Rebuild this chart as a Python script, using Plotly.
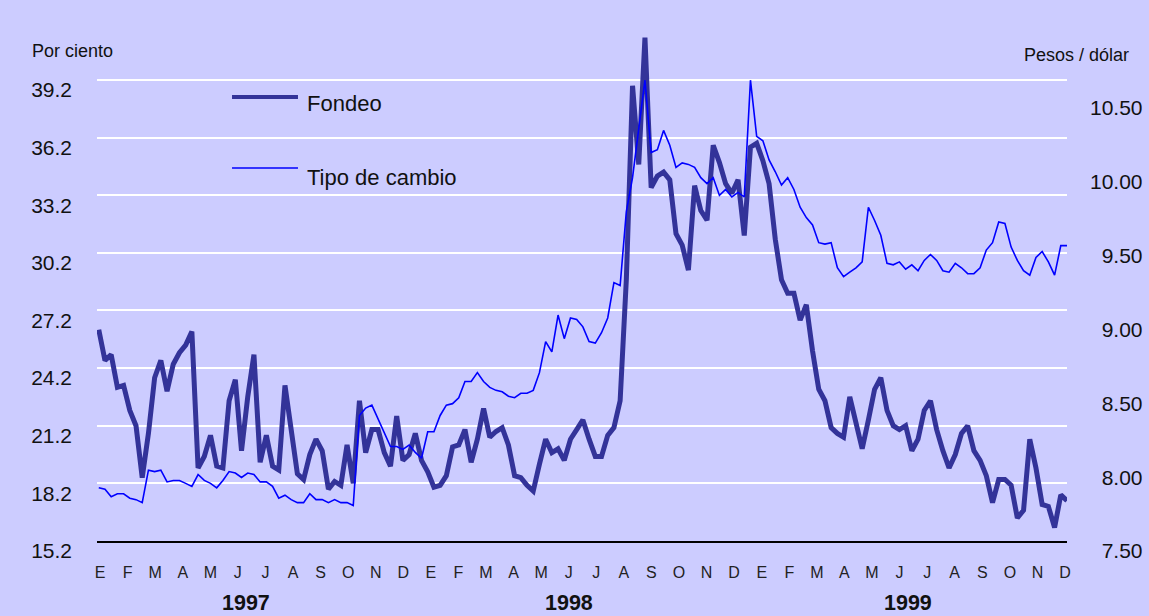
import plotly.graph_objects as go
import pandas as pd

# ---------------- data (weekly readings, Fridays) ----------------
weeks = pd.date_range("1997-01-03", "1999-12-31", freq="7D")

fondeo = [
    26.2, 24.6, 24.9, 23.2, 23.3, 22.0, 21.2, 18.5, 20.8, 23.7,
    24.6, 23.0, 24.4, 25.0, 25.4, 26.1, 19.0, 19.6, 20.7, 19.1,
    19.0, 22.5, 23.6, 19.9, 22.7, 24.9, 19.3, 20.7, 19.1, 18.9,
    23.3, 20.8, 18.7, 18.4, 19.7, 20.5, 19.9, 17.9, 18.3, 18.1,
    20.2, 18.2, 22.5, 19.8, 21.0, 21.0, 19.8, 19.1, 21.7, 19.4,
    19.7, 20.8, 19.4, 18.8, 18.0, 18.1, 18.6, 20.1, 20.2, 21.0,
    19.3, 20.5, 22.1, 20.6, 20.9, 21.1, 20.2, 18.6, 18.5, 18.1,
    17.8, 19.2, 20.5, 19.8, 20.0, 19.4, 20.5, 21.0, 21.5, 20.5,
    19.6, 19.6, 20.7, 21.1, 22.5, 28.8, 38.9, 34.8, 41.4, 33.6,
    34.2, 34.4, 34.0, 31.2, 30.6, 29.3, 33.7, 32.4, 31.9, 35.8,
    34.9, 33.8, 33.3, 34.0, 31.1, 35.7, 35.9, 35.0, 33.8, 30.9,
    28.8, 28.1, 28.1, 26.7, 27.5, 25.1, 23.1, 22.5, 21.1, 20.8,
    20.6, 22.7, 21.2, 20.0, 21.5, 23.1, 23.7, 22.0, 21.2, 21.0,
    21.2, 19.9, 20.5, 22.0, 22.5, 21.0, 19.9, 19.0, 19.7, 20.8,
    21.2, 19.9, 19.4, 18.6, 17.2, 18.4, 18.4, 18.1, 16.4, 16.8,
    20.5, 19.0, 17.1, 17.0, 15.9, 17.6, 17.3,
]

tipo_de_cambio = [
    7.86, 7.85, 7.80, 7.82, 7.82, 7.79, 7.78, 7.76, 7.98, 7.97,
    7.98, 7.90, 7.91, 7.91, 7.89, 7.87, 7.95, 7.91, 7.89, 7.86,
    7.91, 7.97, 7.96, 7.93, 7.96, 7.95, 7.90, 7.90, 7.87, 7.79,
    7.81, 7.78, 7.76, 7.76, 7.82, 7.78, 7.78, 7.76, 7.78, 7.76,
    7.76, 7.74, 8.35, 8.40, 8.42, 8.33, 8.24, 8.14, 8.14, 8.12,
    8.15, 8.10, 8.06, 8.24, 8.24, 8.35, 8.42, 8.43, 8.47, 8.58,
    8.58, 8.64, 8.58, 8.54, 8.52, 8.51, 8.48, 8.47, 8.50, 8.50,
    8.52, 8.64, 8.85, 8.78, 9.03, 8.87, 9.01, 9.00, 8.95, 8.85,
    8.84, 8.91, 9.01, 9.25, 9.23, 9.73, 9.96, 10.28, 10.62, 10.13,
    10.15, 10.28, 10.18, 10.03, 10.06, 10.05, 10.03, 9.96, 9.92, 9.96,
    9.84, 9.88, 9.83, 9.86, 9.83, 10.62, 10.24, 10.21, 10.08, 10.00,
    9.91, 9.96, 9.88, 9.76, 9.69, 9.64, 9.52, 9.51, 9.52, 9.35,
    9.29, 9.32, 9.35, 9.39, 9.76, 9.67, 9.57, 9.38, 9.37, 9.39,
    9.34, 9.37, 9.33, 9.40, 9.44, 9.40, 9.33, 9.32, 9.38, 9.35,
    9.31, 9.31, 9.35, 9.47, 9.52, 9.66, 9.65, 9.49, 9.40, 9.33,
    9.30, 9.42, 9.46, 9.39, 9.30, 9.50, 9.50,
]

left_ticks = [15.2, 18.2, 21.2, 24.2, 27.2, 30.2, 33.2, 36.2, 39.2]
right_ticks = [7.50, 8.00, 8.50, 9.00, 9.50, 10.00, 10.50]
month_labels = ["E", "F", "M", "A", "M", "J", "J", "A", "S", "O", "N", "D"] * 3
years = ["1997", "1998", "1999"]
series_names = ["Fondeo", "Tipo de cambio"]

# ---------------- style ----------------
BG = "#CCCCFF"
FONDEO_COLOR = "#333399"
TC_COLOR = "#0000FF"
FONT = "Liberation Sans, Arial, sans-serif"

fig = go.Figure()
fig.add_trace(go.Scatter(x=weeks, y=fondeo, name=series_names[0], mode="lines",
                         line=dict(color=FONDEO_COLOR, width=5), yaxis="y",
                         showlegend=False))
fig.add_trace(go.Scatter(x=weeks, y=tipo_de_cambio, name=series_names[1], mode="lines",
                         line=dict(color=TC_COLOR, width=1.6), yaxis="y2",
                         showlegend=False))
# invisible trace to carry the month axis
fig.add_trace(go.Scatter(x=[0, len(month_labels) - 1], y=[None, None], xaxis="x2",
                         yaxis="y", mode="lines", showlegend=False, hoverinfo="skip"))

fig.update_layout(
    width=1149, height=616,
    margin=dict(l=97, r=82, t=30, b=75, autoexpand=False),
    paper_bgcolor=BG, plot_bgcolor=BG,
    font=dict(family=FONT, color="#111111"),
    xaxis=dict(type="date", range=["1997-01-01", "1999-12-31"], showticklabels=False,
               showgrid=False, zeroline=False, showline=True, linecolor="#000000",
               linewidth=2, ticks="", automargin=False),
    xaxis2=dict(overlaying="x", anchor="y", side="bottom",
                range=[-0.109, len(month_labels) - 1 + 0.073],
                tickmode="array", tickvals=list(range(len(month_labels))),
                ticktext=month_labels, showgrid=False, zeroline=False, showline=False,
                ticks="", tickfont=dict(size=16, color="#222222"),
                ticklabelstandoff=20, automargin=False),
    yaxis=dict(range=[15.2, 41.8], tickmode="array", tickvals=left_ticks,
               ticktext=[f"{v:.1f}" for v in left_ticks], showgrid=True,
               gridcolor="#FFFFFF", gridwidth=2, zeroline=False, showline=False,
               ticks="", tickfont=dict(size=21, color="#111111"),
               ticklabelstandoff=24, ticklabelshift=10, automargin=False),
    yaxis2=dict(range=[7.5, 10.96], overlaying="y", side="right", tickmode="array",
                tickvals=right_ticks,
                ticktext=[("\u2007" if v < 10 else "") + f"{v:.2f}" for v in right_ticks],
                showgrid=False, zeroline=False, showline=False, ticks="",
                tickfont=dict(size=21, color="#111111"),
                ticklabelstandoff=22, ticklabelshift=10, automargin=False),
)

# axis titles
fig.add_annotation(text="Por ciento", xref="paper", yref="paper", x=-0.069, y=0.959,
                   xanchor="left", yanchor="middle", showarrow=False,
                   font=dict(size=18, color="#111111"))
fig.add_annotation(text="Pesos / dólar", xref="paper", yref="paper", x=0.9536, y=0.951,
                   xanchor="left", yanchor="middle", showarrow=False,
                   font=dict(size=18, color="#111111"))

# year labels under the months
year_centers = [5.3, 17.0, 29.3]
for yr, xc in zip(years, year_centers):
    fig.add_annotation(text=f"<b>{yr}</b>", xref="x2", yref="paper", x=xc, y=-0.121,
                       xanchor="center", yanchor="middle", showarrow=False,
                       font=dict(size=21.5, color="#111111"))

# manual legend (long line samples)
legend_rows = [(0.8689, 0.8552, FONDEO_COLOR, 4), (0.7299, 0.7123, TC_COLOR, 1.6)]
for name, (ly, ty, col, w) in zip(series_names, legend_rows):
    fig.add_shape(type="line", xref="paper", yref="paper", x0=0.1392, x1=0.2072,
                  y0=ly, y1=ly, line=dict(color=col, width=w))
    fig.add_annotation(text=name, xref="paper", yref="paper", x=0.2144, y=ty,
                       xanchor="left", yanchor="middle", showarrow=False,
                       font=dict(size=22, color="#111111"))

fig.write_html("out.html", config={"displayModeBar": False},
               post_script="document.body.style.margin='0';document.body.style.padding='0';")
